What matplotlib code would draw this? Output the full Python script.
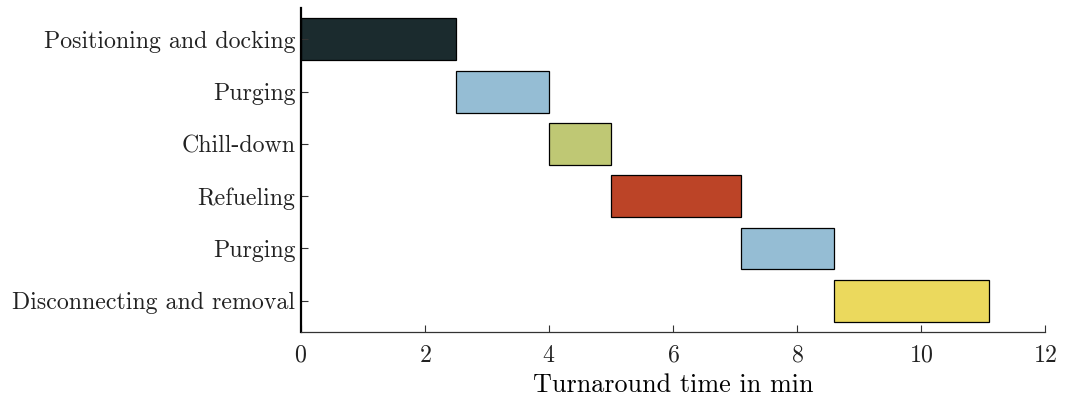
import matplotlib
matplotlib.use("Agg")
import matplotlib.pyplot as plt

plt.rcParams['font.family'] = 'serif'
plt.rcParams['font.serif'] = ['cmr10']
plt.rcParams['axes.formatter.use_mathtext'] = True
plt.rcParams['text.color'] = '#222222'
plt.rcParams['xtick.labelcolor'] = '#222222'
plt.rcParams['ytick.labelcolor'] = '#222222'

# process steps of the refueling turnaround (min)
steps = ["Positioning and docking", "Purging", "Chill-down", "Refueling",
         "Purging", "Disconnecting and removal"]
starts = [0.0, 2.5, 4.0, 5.0, 7.1, 8.6]
durations = [2.5, 1.5, 1.0, 2.1, 1.5, 2.5]
colors = ["#1b2b2e", "#95bdd4", "#bfc874", "#bc4427", "#95bdd4", "#ebd95d"]

fig = plt.figure(figsize=(10.71, 4.01), dpi=100)
ax = fig.add_axes([0.281, 0.172, 0.6947, 0.808])

ypos = list(range(len(steps)))
ax.barh(ypos, durations, left=starts, height=0.8, color=colors,
        edgecolor="black", linewidth=0.9)

ax.set_yticks(ypos)
ax.set_yticklabels(steps, fontsize=17.2)
ax.set_ylim(len(steps) - 0.4, -0.6)
ax.set_xlim(0, 12)
ax.set_xticks(range(0, 13, 2))
ax.tick_params(axis='x', labelsize=17.2, direction='in', length=5,
               width=0.8, color='#333333', pad=9)
ax.tick_params(axis='y', direction='in', length=5, width=0.8,
               color='#333333', pad=4)
ax.set_xlabel("Turnaround time in min", fontsize=18.8, labelpad=5)

for side in ['top', 'right']:
    ax.spines[side].set_visible(False)
ax.spines['bottom'].set_color('#333333')
ax.spines['bottom'].set_linewidth(0.9)
ax.spines['left'].set_color('black')
ax.spines['left'].set_linewidth(1.6)

fig.savefig("out.png", dpi=100)
